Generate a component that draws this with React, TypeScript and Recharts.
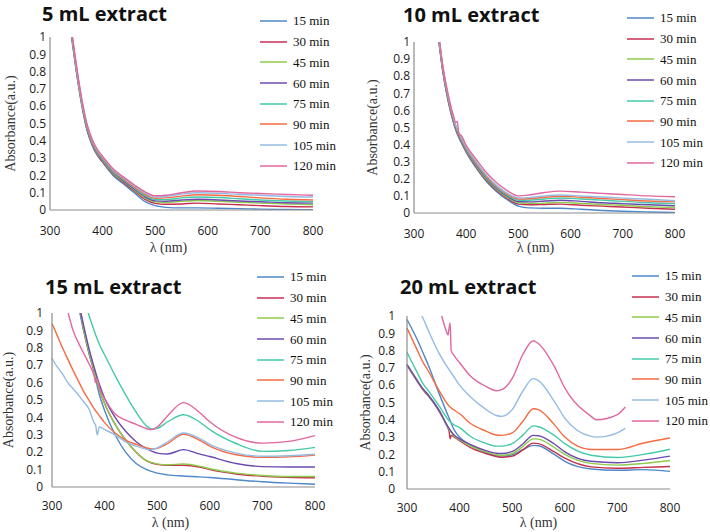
import { LineChart, Line, XAxis, YAxis, Label } from "recharts";

const TIMES = ["15 min", "30 min", "45 min", "60 min", "75 min", "90 min", "105 min", "120 min"];
const COLORS = ["#4f87c9", "#c4304f", "#8ccb4c", "#6b4bae", "#45c9a8", "#f56b42", "#94bbe3", "#e2679f"];
const X_TICKS = [300, 400, 500, 600, 700, 800];
const Y_TICKS = [0, 0.1, 0.2, 0.3, 0.4, 0.5, 0.6, 0.7, 0.8, 0.9, 1];

// 5 mL extract
const NM_5 = [340, 350, 360, 370, 380, 390, 400, 420, 440, 460, 480, 500, 520, 550, 580, 620, 660, 700, 750, 800];
const ABS_5 = [
  [1.02, 0.8, 0.61, 0.465, 0.375, 0.315, 0.275, 0.2, 0.15, 0.1, 0.05, 0.025, 0.015, 0.012, 0.012, 0.01, 0.008, 0.005, 0.003, 0.002],
  [1.03, 0.81, 0.62, 0.47, 0.38, 0.32, 0.28, 0.208, 0.158, 0.11, 0.063, 0.038, 0.033, 0.035, 0.04, 0.035, 0.03, 0.025, 0.02, 0.018],
  [1.03, 0.81, 0.62, 0.475, 0.385, 0.325, 0.285, 0.213, 0.163, 0.117, 0.071, 0.047, 0.044, 0.05, 0.055, 0.05, 0.045, 0.04, 0.035, 0.03],
  [1.04, 0.82, 0.63, 0.48, 0.39, 0.33, 0.29, 0.218, 0.168, 0.122, 0.078, 0.053, 0.051, 0.058, 0.062, 0.058, 0.052, 0.048, 0.042, 0.04],
  [1.04, 0.82, 0.63, 0.485, 0.395, 0.335, 0.295, 0.223, 0.173, 0.128, 0.085, 0.06, 0.06, 0.07, 0.075, 0.072, 0.065, 0.058, 0.052, 0.048],
  [1.05, 0.83, 0.64, 0.49, 0.4, 0.34, 0.3, 0.228, 0.178, 0.134, 0.092, 0.068, 0.07, 0.08, 0.088, 0.085, 0.078, 0.07, 0.062, 0.058],
  [1.05, 0.83, 0.64, 0.495, 0.405, 0.345, 0.305, 0.233, 0.184, 0.14, 0.099, 0.075, 0.078, 0.092, 0.1, 0.097, 0.09, 0.085, 0.078, 0.075],
  [1.06, 0.84, 0.65, 0.5, 0.41, 0.35, 0.31, 0.238, 0.19, 0.146, 0.106, 0.082, 0.085, 0.1, 0.11, 0.107, 0.1, 0.095, 0.09, 0.085],
];

// 10 mL extract
const NM_10 = [348, 355, 365, 375, 380, 383, 386, 390, 400, 420, 440, 460, 480, 500, 520, 550, 580, 620, 660, 700, 750, 800];
const ABS_10 = [
  [0.99, 0.83, 0.66, 0.535, 0.485, null, null, 0.415, 0.355, 0.26, 0.18, 0.12, 0.075, 0.04, 0.03, 0.028, 0.028, 0.022, 0.015, 0.01, 0.006, 0.003],
  [1.0, 0.835, 0.665, 0.54, 0.49, null, null, 0.42, 0.36, 0.266, 0.187, 0.127, 0.083, 0.052, 0.048, 0.05, 0.052, 0.045, 0.04, 0.035, 0.028, 0.022],
  [1.0, 0.84, 0.67, 0.545, 0.495, null, null, 0.425, 0.365, 0.272, 0.193, 0.133, 0.089, 0.06, 0.056, 0.058, 0.062, 0.056, 0.05, 0.045, 0.037, 0.032],
  [1.01, 0.845, 0.675, 0.55, 0.5, null, null, 0.43, 0.37, 0.278, 0.199, 0.139, 0.095, 0.067, 0.065, 0.07, 0.075, 0.068, 0.06, 0.055, 0.048, 0.042],
  [1.01, 0.85, 0.68, 0.555, 0.505, null, null, 0.435, 0.375, 0.284, 0.205, 0.145, 0.101, 0.075, 0.075, 0.082, 0.088, 0.082, 0.075, 0.068, 0.06, 0.055],
  [1.02, 0.855, 0.685, 0.56, 0.51, null, null, 0.44, 0.38, 0.29, 0.211, 0.151, 0.107, 0.082, 0.083, 0.092, 0.098, 0.092, 0.085, 0.078, 0.07, 0.065],
  [1.02, 0.86, 0.69, 0.565, 0.515, null, null, 0.445, 0.385, 0.296, 0.217, 0.157, 0.113, 0.088, 0.09, 0.1, 0.105, 0.1, 0.094, 0.087, 0.08, 0.072],
  [1.03, 0.865, 0.7, 0.575, 0.53, 0.535, 0.46, 0.455, 0.395, 0.31, 0.232, 0.172, 0.128, 0.1, 0.105, 0.12, 0.128, 0.122, 0.115, 0.108, 0.1, 0.095],
];

// 15 mL extract
const NM_15 = [300, 310, 320, 330, 340, 350, 355, 360, 370, 380, 383, 386, 390, 400, 420, 440, 460, 480, 490, 500, 520, 550, 580, 600, 650, 700, 750, 800];
const ABS_15 = [
  [null, null, null, null, null, 1.05, 0.97, 0.9, 0.77, 0.66, null, null, 0.53, 0.44, 0.3, 0.2, 0.135, 0.1, null, 0.08, 0.07, 0.063, 0.058, 0.055, 0.042, 0.03, 0.022, 0.016],
  [null, null, null, null, null, 1.06, 0.99, 0.91, 0.78, 0.67, null, null, 0.56, 0.48, 0.36, 0.27, 0.2, 0.15, null, 0.13, 0.125, 0.125, 0.115, 0.1, 0.075, 0.062, 0.056, 0.053],
  [null, null, null, null, null, 1.06, 0.99, 0.91, 0.78, 0.67, null, null, 0.56, 0.48, 0.36, 0.27, 0.2, 0.152, null, 0.133, 0.128, 0.132, 0.12, 0.105, 0.08, 0.066, 0.06, 0.06],
  [null, null, null, null, null, 1.08, 1.0, 0.93, 0.8, 0.69, null, null, 0.59, 0.51, 0.4, 0.32, 0.26, 0.22, null, 0.195, 0.19, 0.215, 0.19, 0.175, 0.135, 0.117, 0.115, 0.115],
  [null, null, null, null, null, null, null, 1.1, 0.99, 0.9, null, null, 0.82, 0.76, 0.64, 0.53, 0.43, 0.35, 0.333, 0.337, 0.375, 0.415, 0.375, 0.33, 0.25, 0.205, 0.21, 0.228],
  [0.94, 0.87, 0.8, 0.735, 0.67, 0.61, null, 0.55, 0.5, 0.45, null, null, 0.41, 0.37, 0.31, 0.27, 0.245, 0.225, 0.218, 0.222, 0.25, 0.303, 0.27, 0.235, 0.185, 0.17, 0.173, 0.183],
  [0.74, 0.69, 0.65, 0.6, 0.565, 0.53, null, 0.49, 0.45, 0.37, 0.355, 0.3, 0.345, 0.33, 0.3, 0.26, 0.235, 0.218, 0.215, 0.225, 0.26, 0.31, 0.28, 0.245, 0.195, 0.177, 0.18, 0.188],
  [null, null, null, 1.01, 0.9, 0.83, null, 0.77, 0.71, 0.64, 0.6, 0.62, 0.57, 0.51, 0.42, 0.385, 0.36, 0.335, 0.33, 0.345, 0.41, 0.485, 0.43, 0.375, 0.285, 0.252, 0.262, 0.295],
];

// 20 mL extract
const NM_20 = [300, 320, 330, 340, 360, 366, 375, 378, 380, 382, 384, 390, 400, 420, 450, 470, 480, 500, 520, 540, 550, 580, 600, 650, 660, 700, 715, 750, 800];
const ABS_20 = [
  [0.98, 0.86, 0.79, 0.72, 0.56, null, null, null, 0.41, null, null, 0.34, 0.3, 0.255, 0.21, 0.192, 0.19, 0.198, 0.227, 0.252, 0.25, 0.2, 0.16, 0.116, null, 0.108, null, 0.112, 0.102],
  [0.715, 0.62, 0.575, 0.54, 0.455, null, 0.37, 0.35, 0.335, 0.29, 0.31, 0.3, 0.28, 0.24, 0.205, 0.188, 0.183, 0.19, 0.225, 0.265, 0.262, 0.214, 0.178, 0.128, null, 0.12, null, 0.125, 0.13],
  [0.72, 0.625, 0.58, 0.545, 0.46, null, null, null, 0.345, null, null, 0.305, 0.285, 0.25, 0.215, 0.198, 0.195, 0.205, 0.245, 0.29, 0.288, 0.24, 0.2, 0.148, null, 0.138, null, 0.148, 0.165],
  [0.72, 0.625, 0.58, 0.545, 0.46, null, null, null, 0.35, null, null, 0.31, 0.29, 0.258, 0.222, 0.207, 0.205, 0.217, 0.26, 0.31, 0.308, 0.26, 0.215, 0.16, null, 0.152, null, 0.167, 0.19],
  [0.79, 0.67, 0.61, 0.57, 0.485, null, null, null, 0.395, null, null, 0.37, 0.355, 0.305, 0.264, 0.248, 0.248, 0.262, 0.31, 0.365, 0.36, 0.31, 0.262, 0.195, null, 0.182, null, 0.2, 0.23],
  [0.93, 0.8, 0.735, 0.685, 0.575, null, null, null, 0.48, null, null, 0.455, 0.435, 0.38, 0.335, 0.312, 0.31, 0.324, 0.39, 0.464, 0.459, 0.372, 0.3, 0.228, null, 0.228, null, 0.266, 0.295],
  [null, 1.04, 0.99, 0.92, 0.79, null, null, null, 0.69, null, null, 0.645, 0.6, 0.535, 0.46, 0.425, 0.42, 0.459, 0.565, 0.638, 0.626, 0.507, 0.41, 0.304, 0.3, 0.325, 0.35, null, null],
  [null, null, null, null, 1.06, 1.0, 0.91, 0.89, 0.93, 0.96, 0.8, 0.77, 0.73, 0.655, 0.593, 0.568, 0.574, 0.64, 0.776, 0.857, 0.84, 0.709, 0.584, 0.42, 0.4, 0.43, 0.474, null, null],
];

const TICK_FONT = { fontFamily: "'Open Sans', sans-serif", fontSize: 12, fill: "#1a1a1a" };
const SERIF = "'Liberation Serif', 'Times New Roman', serif";
const AXIS_COLOR = "#8c8c8c";

function toRows(nm: number[], series: (number | null)[][]) {
  return nm.map((x, i) => {
    const row: Record<string, number | null> = { nm: x };
    series.forEach((s, k) => {
      row["s" + k] = s[i];
    });
    return row;
  });
}

type PanelProps = {
  title: string;
  nm: number[];
  series: (number | null)[][];
  left: number;
  top: number;
  width: number;
  height: number;
  mTop: number;
  mRight: number;
  yw: number;
  xh: number;
  yTickGap: number;
  xTickGap: number;
  yLabelX: number;
  xLabelDy: number;
  xLabelDx: number;
  titleX: number;
  titleY: number;
  legX: number;
  legY: number;
};

function Legend({ x, y }: { x: number; y: number }) {
  const rowH = 20.7;
  return (
    <div style={{ position: "absolute", left: x, top: y - rowH / 2 }}>
      {TIMES.map((t, i) => (
        <div key={t} style={{ display: "flex", alignItems: "center", height: rowH }}>
          <svg width={27} height={4} style={{ display: "block" }}>
            <line x1={0} y1={2} x2={27} y2={2} stroke={COLORS[i]} strokeWidth={1.5} />
          </svg>
          <span style={{ marginLeft: 6, fontFamily: SERIF, fontSize: 13, color: "#111", lineHeight: 1 }}>{t}</span>
        </div>
      ))}
    </div>
  );
}

function Panel(p: PanelProps) {
  const data = toRows(p.nm, p.series);
  return (
    <>
      <div
        style={{
          position: "absolute",
          left: p.titleX,
          top: p.titleY - 10,
          fontFamily: "'Open Sans', sans-serif",
          fontWeight: 700,
          fontSize: 20,
          lineHeight: "20px",
          color: "#111",
          whiteSpace: "nowrap",
        }}
      >
        {p.title}
      </div>
      <div style={{ position: "absolute", left: p.left, top: p.top }}>
        <LineChart width={p.width} height={p.height} data={data} margin={{ top: p.mTop, right: p.mRight, bottom: 0, left: 0 }}>
          <XAxis
            type="number"
            dataKey="nm"
            domain={[300, 800]}
            ticks={X_TICKS}
            interval={0}
            height={p.xh}
            tickLine={false}
            tickSize={0}
            tickMargin={p.xTickGap}
            tick={TICK_FONT}
            stroke={AXIS_COLOR}
            axisLine={{ stroke: AXIS_COLOR, strokeWidth: 1.2 }}
          >
            <Label
              content={({ viewBox }: any) => (
                <text
                  x={viewBox.x + viewBox.width / 2 + p.xLabelDx}
                  y={viewBox.y + p.xLabelDy}
                  textAnchor="middle"
                  dominantBaseline="central"
                  fontFamily={SERIF}
                  fontSize={14}
                  fill="#333"
                >
                  λ (nm)
                </text>
              )}
            />
          </XAxis>
          <YAxis
            type="number"
            domain={[0, 1]}
            allowDataOverflow
            ticks={Y_TICKS}
            interval={0}
            width={p.yw}
            tickLine={false}
            tickSize={0}
            tickMargin={p.yTickGap}
            tick={TICK_FONT}
            tickFormatter={(v: number) => String(v)}
            axisLine={{ stroke: AXIS_COLOR, strokeWidth: 1.2 }}
          >
            <Label
              content={({ viewBox }: any) => {
                const tx = p.yLabelX;
                const ty = viewBox.y + viewBox.height / 2;
                return (
                  <text
                    x={tx}
                    y={ty}
                    transform={`rotate(-90 ${tx} ${ty})`}
                    textAnchor="middle"
                    dominantBaseline="central"
                    fontFamily={SERIF}
                    fontSize={14}
                    fill="#333"
                  >
                    Absorbance(a.u.)
                  </text>
                );
              }}
            />
          </YAxis>
          {TIMES.map((t, k) => (
            <Line
              key={t}
              type="monotone"
              dataKey={"s" + k}
              name={t}
              stroke={COLORS[k]}
              strokeWidth={1.4}
              dot={false}
              activeDot={false}
              connectNulls
              isAnimationActive={false}
            />
          ))}
        </LineChart>
      </div>
      <Legend x={p.legX} y={p.legY} />
    </>
  );
}

export default function App() {
  return (
    <div style={{ position: "absolute", left: 0, top: 0, width: 710, height: 532, background: "#fff", overflow: "hidden" }}>
      <Panel
        title="5 mL extract"
        nm={NM_5}
        series={ABS_5}
        left={0}
        top={0}
        width={330}
        height={260}
        mTop={37}
        mRight={17}
        yw={50}
        xh={50}
        yTickGap={4}
        xTickGap={16}
        yLabelX={10}
        xLabelDy={37}
        xLabelDx={-13}
        titleX={42}
        titleY={14}
        legX={260}
        legY={21}
      />
      <Panel
        title="10 mL extract"
        nm={NM_10}
        series={ABS_10}
        left={355}
        top={0}
        width={340}
        height={263}
        mTop={42}
        mRight={20}
        yw={59}
        xh={50}
        yTickGap={4}
        xTickGap={16}
        yLabelX={17}
        xLabelDy={34}
        xLabelDx={-9}
        titleX={403}
        titleY={15}
        legX={627}
        legY={18}
      />
      <Panel
        title="15 mL extract"
        nm={NM_15}
        series={ABS_15}
        left={0}
        top={265}
        width={330}
        height={267}
        mTop={48}
        mRight={15}
        yw={52}
        xh={45}
        yTickGap={9}
        xTickGap={14}
        yLabelX={8}
        xLabelDy={35}
        xLabelDx={-13}
        titleX={45}
        titleY={287}
        legX={257}
        legY={277}
      />
      <Panel
        title="20 mL extract"
        nm={NM_20}
        series={ABS_20}
        left={355}
        top={265}
        width={330}
        height={267}
        mTop={51}
        mRight={15}
        yw={52}
        xh={43}
        yTickGap={12}
        xTickGap={14}
        yLabelX={10}
        xLabelDy={33}
        xLabelDx={0}
        titleX={400}
        titleY={287}
        legX={632}
        legY={276}
      />
    </div>
  );
}
